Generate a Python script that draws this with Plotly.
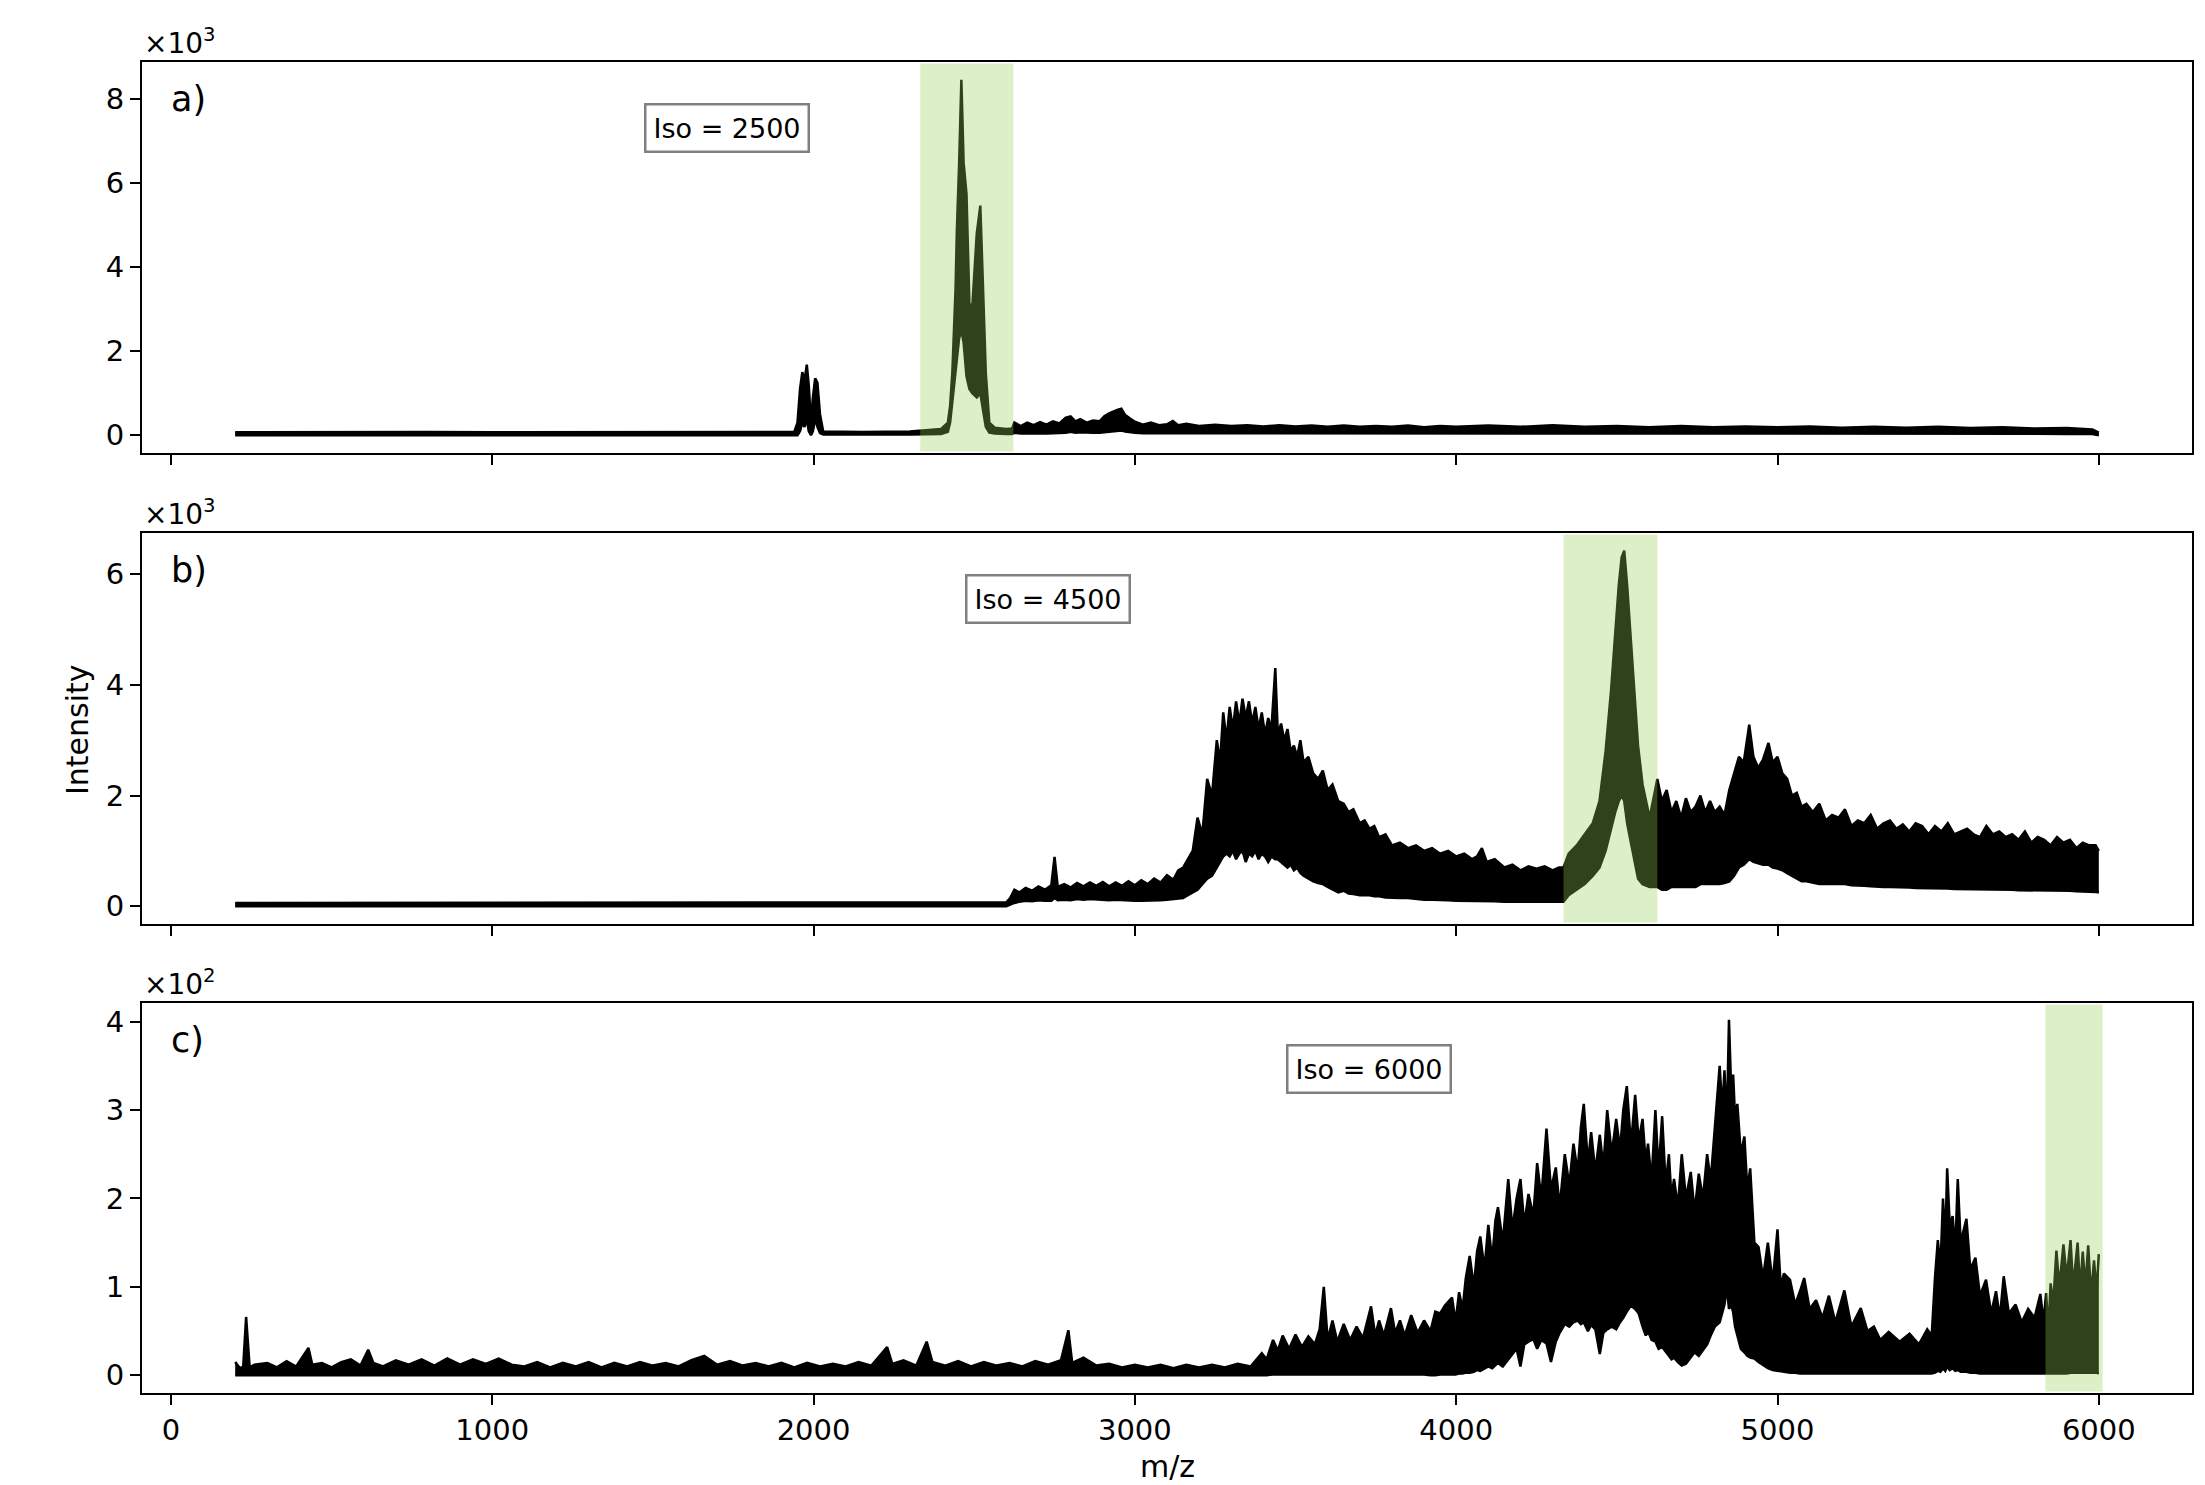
import plotly.graph_objects as go

FONT = "DejaVu Sans"

# ---------------- Panel a (Iso = 2500) ----------------
mz_a = [200, 400, 600, 800, 1000, 1200, 1400, 1600, 1800, 1940,
        1950, 1958, 1965, 1972, 1979, 1985, 1992, 1998, 2005, 2012,
        2020, 2030, 2150, 2300, 2397, 2418, 2425, 2432, 2442, 2446,
        2453, 2460, 2467, 2476, 2485, 2494, 2508, 2519, 2526, 2536,
        2547, 2564, 2600, 2618, 2625, 2645, 2665, 2685, 2705, 2725,
        2745, 2765, 2785, 2800, 2815, 2830, 2850, 2870, 2890, 2905,
        2920, 2935, 2945, 2958, 2970, 2985, 3000, 3025, 3050, 3075,
        3100, 3118, 3135, 3160, 3200, 3250, 3300, 3350, 3400, 3450,
        3500, 3550, 3600, 3650, 3700, 3750, 3800, 3850, 3900, 3950,
        4000, 4100, 4200, 4300, 4400, 4500, 4600, 4700, 4800, 4900,
        5000, 5100, 5200, 5300, 5400, 5500, 5600, 5700, 5800, 5900,
        5980, 6000]
hi_a = [70, 75, 70, 75, 70, 75, 70, 75, 75, 80,
        300, 1100, 1500, 1300, 1680, 1200, 300, 900, 1350, 1250,
        500, 90, 80, 90, 150, 300, 700, 1500, 3500, 4870,
        6440, 8450, 6480, 5730, 3130, 3050, 4800, 5460, 3840, 1480,
        300, 180, 150, 160, 300, 220, 300, 240, 310, 250,
        330, 280, 420, 450, 330, 380, 300, 350, 330, 450,
        520, 580, 600, 630, 480, 400, 320, 250, 300, 240,
        260, 340, 240, 270, 220, 250, 220, 240, 210, 240,
        210, 230, 200, 230, 200, 220, 200, 230, 190, 220,
        200, 230, 200, 240, 200, 220, 190, 220, 190, 210,
        190, 210, 180, 200, 180, 200, 170, 190, 160, 170,
        140, 60]
lo_a = [0, 0, 0, 0, 0, 0, 0, 0, 0, 0,
        0, 100, 300, 200, 400, 100, 0, 100, 400, 200,
        50, 20, 10, 15, 30, 80, 300, 800, 1400, 1800,
        2300, 2500, 2200, 1400, 1100, 1000, 900, 1000, 700, 200,
        60, 40, 30, 30, 60, 40, 50, 40, 50, 40,
        50, 50, 60, 80, 60, 70, 60, 60, 60, 70,
        80, 100, 100, 110, 90, 70, 60, 50, 50, 40,
        40, 40, 40, 40, 40, 40, 40, 40, 40, 40,
        40, 40, 40, 40, 40, 40, 40, 40, 40, 40,
        40, 40, 40, 40, 40, 40, 40, 40, 40, 40,
        40, 40, 40, 40, 40, 40, 40, 40, 35, 30,
        30, 0]

# ---------------- Panel b (Iso = 4500) ----------------
mz_b = [200, 600, 1000, 1400, 1800, 2200, 2600, 2612, 2625, 2640,
        2660, 2680, 2700, 2720, 2740, 2750, 2760, 2780, 2800, 2820,
        2840, 2860, 2880, 2900, 2920, 2940, 2960, 2980, 3000, 3020,
        3040, 3060, 3080, 3100, 3120, 3135, 3150, 3165, 3180, 3195,
        3210, 3225, 3240, 3255, 3265, 3275, 3285, 3295, 3305, 3315,
        3325, 3335, 3345, 3355, 3365, 3375, 3385, 3395, 3405, 3415,
        3425, 3437, 3445, 3455, 3465, 3475, 3485, 3495, 3505, 3515,
        3525, 3540, 3555, 3570, 3585, 3600, 3615, 3633, 3650, 3665,
        3680, 3700, 3715, 3730, 3745, 3760, 3780, 3800, 3825, 3850,
        3875, 3900, 3925, 3950, 3975, 4000, 4025, 4050, 4065, 4080,
        4095, 4120, 4150, 4175, 4200, 4225, 4250, 4275, 4300, 4320,
        4334, 4350, 4375, 4400, 4425, 4446, 4465, 4482, 4495, 4506,
        4515, 4523, 4532, 4542, 4555, 4566, 4580, 4602, 4626, 4640,
        4655, 4670, 4685, 4700, 4715, 4730, 4745, 4760, 4775, 4790,
        4805, 4820, 4835, 4850, 4865, 4880, 4895, 4912, 4925, 4940,
        4955, 4972, 4985, 5000, 5015, 5030, 5045, 5060, 5075, 5090,
        5110, 5130, 5150, 5170, 5190, 5210, 5230, 5250, 5270, 5290,
        5310, 5330, 5350, 5370, 5390, 5410, 5430, 5450, 5470, 5490,
        5510, 5530, 5550, 5570, 5590, 5610, 5630, 5650, 5670, 5690,
        5710, 5730, 5750, 5770, 5790, 5810, 5830, 5850, 5870, 5890,
        5910, 5930, 5950, 5970, 5990, 6000]
hi_b = [60, 60, 60, 60, 60, 60, 70, 150, 300, 250,
        330, 280, 360, 300, 380, 890, 350, 400, 340, 420,
        360, 430, 370, 440, 360, 430, 370, 450, 380, 470,
        400, 500, 430, 560, 480, 650, 700, 850, 1000, 1600,
        1300, 2300, 2000, 3000, 2600, 3500, 3000, 3600, 3200, 3700,
        3300, 3750, 3400, 3700, 3300, 3600, 3200, 3500, 3100, 3400,
        3200, 4300, 3100, 3300, 3000, 3200, 2800, 2900, 2700, 3000,
        2600, 2700, 2400, 2300, 2450, 2100, 2200, 1900, 1850, 1700,
        1750, 1500, 1550, 1400, 1450, 1250, 1300, 1100, 1150, 1050,
        1100, 1000, 1050, 950, 1000, 900, 950, 850, 900, 1050,
        800, 850, 700, 750, 650, 720, 680, 720, 650, 700,
        700, 950, 1100, 1300, 1500, 1900, 2800, 3900, 5000, 5800,
        6300, 6420, 5800, 4900, 3800, 2900, 2200, 1600, 2300, 1900,
        2100, 1700, 1900, 1600, 1950, 1700, 1800, 2000, 1700, 1900,
        1700, 1800, 1650, 2100, 2400, 2700, 2600, 3280, 2700, 2500,
        2650, 2950, 2600, 2700, 2400, 2300, 2000, 2050, 1800, 1850,
        1700, 1850, 1550, 1650, 1600, 1750, 1450, 1550, 1500, 1650,
        1400, 1500, 1550, 1400, 1480, 1350, 1500, 1450, 1300, 1450,
        1350, 1500, 1300, 1350, 1400, 1300, 1250, 1450, 1300, 1350,
        1250, 1300, 1200, 1350, 1150, 1250, 1200, 1100, 1250, 1150,
        1200, 1050, 1150, 1100, 1100, 1000]
lo_b = [0, 0, 0, 0, 0, 0, 0, 30, 60, 80,
        100, 90, 110, 100, 100, 150, 110, 120, 110, 130,
        120, 130, 120, 120, 110, 120, 110, 110, 100, 100,
        100, 110, 110, 120, 130, 140, 150, 200, 250, 300,
        400, 500, 550, 700, 800, 900, 950, 900, 1000, 850,
        950, 1000, 800, 950, 900, 1000, 850, 950, 900, 800,
        900, 850, 850, 800, 750, 700, 750, 650, 700, 600,
        550, 500, 450, 420, 400, 350, 300, 250, 280, 230,
        220, 200, 200, 200, 180, 180, 160, 150, 150, 150,
        130, 120, 120, 120, 110, 100, 100, 100, 100, 100,
        100, 90, 80, 80, 80, 70, 70, 70, 70, 70,
        80, 200, 300, 400, 550, 700, 1000, 1400, 1700, 1900,
        2000, 1900, 1500, 1200, 800, 500, 400, 350, 350, 300,
        300, 350, 350, 350, 350, 350, 350, 400, 400, 400,
        400, 400, 420, 450, 550, 700, 750, 850, 800, 780,
        750, 750, 700, 680, 650, 600, 550, 500, 450, 450,
        420, 400, 400, 400, 400, 400, 380, 380, 370, 360,
        350, 350, 350, 350, 340, 340, 330, 330, 320, 320,
        320, 320, 310, 310, 300, 300, 300, 300, 300, 300,
        300, 300, 290, 290, 290, 290, 280, 280, 280, 280,
        280, 270, 270, 270, 260, 250]

# ---------------- Panel c (Iso = 6000) ----------------
mz_c = [200, 215, 225, 234, 245, 260, 300, 330, 360, 390,
        428, 440, 470, 500, 530, 560, 590, 614, 630, 660,
        700, 740, 780, 820, 860, 900, 940, 980, 1020, 1060,
        1100, 1140, 1180, 1220, 1260, 1300, 1340, 1380, 1420, 1460,
        1500, 1540, 1580, 1620, 1660, 1700, 1740, 1780, 1820, 1860,
        1900, 1940, 1980, 2020, 2060, 2100, 2140, 2180, 2229, 2245,
        2280, 2320, 2352, 2370, 2410, 2450, 2490, 2530, 2570, 2610,
        2650, 2690, 2730, 2770, 2793, 2805, 2840, 2880, 2920, 2960,
        3000, 3040, 3080, 3120, 3160, 3200, 3240, 3280, 3320, 3360,
        3395, 3410, 3430, 3445, 3460, 3480, 3500, 3520, 3540, 3560,
        3575, 3588, 3600, 3615, 3630, 3650, 3670, 3690, 3710, 3735,
        3748, 3760, 3775, 3797, 3810, 3825, 3840, 3860, 3880, 3900,
        3920, 3935, 3950, 3965, 3987, 3998, 4009, 4020, 4030, 4042,
        4055, 4065, 4075, 4088, 4100, 4112, 4122, 4130, 4145, 4162,
        4175, 4188, 4200, 4212, 4225, 4240, 4252, 4265, 4281, 4295,
        4310, 4322, 4338, 4352, 4365, 4378, 4388, 4397, 4410, 4420,
        4433, 4447, 4458, 4470, 4484, 4498, 4510, 4520, 4531, 4544,
        4557, 4568, 4580, 4590, 4597, 4608, 4620, 4630, 4641, 4652,
        4662, 4670, 4678, 4690, 4702, 4715, 4730, 4742, 4755, 4768,
        4781, 4792, 4805, 4820, 4828, 4835, 4842, 4849, 4856, 4862,
        4868, 4875, 4886, 4897, 4906, 4915, 4928, 4941, 4955, 4970,
        4985, 5000, 5010, 5020, 5039, 5055, 5070, 5083, 5100, 5120,
        5140, 5160, 5180, 5208, 5230, 5259, 5280, 5300, 5320, 5346,
        5380, 5411, 5440, 5466, 5480, 5490, 5499, 5507, 5515, 5522,
        5528, 5536, 5545, 5553, 5561, 5570, 5588, 5600, 5616, 5630,
        5649, 5665, 5680, 5692, 5704, 5720, 5741, 5760, 5780, 5800,
        5818, 5828, 5836, 5843, 5850, 5858, 5868, 5877, 5890, 5900,
        5912, 5920, 5934, 5942, 5950, 5958, 5967, 5976, 5985, 5993,
        6000]
hi_c = [15, 8, 10, 66, 9, 12, 14, 9, 16, 10,
        31, 12, 14, 9, 15, 18, 11, 29, 14, 10,
        17, 12, 18, 11, 19, 12, 18, 13, 19, 12,
        10, 15, 9, 14, 10, 15, 9, 14, 10, 15,
        11, 14, 10, 17, 22, 12, 16, 11, 14, 10,
        14, 9, 14, 10, 13, 10, 15, 11, 32, 13,
        17, 11, 38, 15, 11, 16, 10, 15, 11, 14,
        10, 16, 12, 17, 51, 14, 20, 11, 13, 9,
        12, 9, 12, 8, 12, 9, 12, 9, 13, 10,
        25, 18, 40, 28, 45, 30, 46, 32, 44, 35,
        52, 100, 40, 62, 38, 58, 40, 55, 42, 78,
        45, 62, 45, 76, 48, 62, 45, 68, 48, 62,
        50, 72, 70, 79, 88, 60, 94, 75, 110, 135,
        100, 140, 157, 120, 170, 130, 175, 190, 150, 222,
        165, 200, 222, 170, 205, 180, 240, 200, 279, 210,
        235, 190, 250, 215, 262, 230, 280, 307, 240, 275,
        230, 272, 235, 300, 250, 290, 255, 300, 327, 260,
        317, 265, 290, 240, 262, 220, 300, 230, 293, 215,
        250, 200, 222, 190, 250, 200, 230, 185, 228, 200,
        250, 220, 280, 350, 300, 345, 280, 402, 320, 340,
        290, 307, 250, 270, 210, 234, 150, 145, 110, 150,
        105, 165, 100, 115, 108, 80, 95, 110, 75, 85,
        65, 90, 60, 96, 55, 76, 50, 55, 40, 49,
        38, 47, 35, 52, 45, 110, 153, 120, 200, 150,
        234, 170, 180, 140, 222, 150, 177, 120, 133, 90,
        108, 70, 95, 65, 112, 70, 80, 60, 75, 65,
        92, 60, 93, 50, 104, 80, 141, 100, 148, 110,
        153, 100, 150, 95, 140, 100, 147, 90, 130, 95,
        137]
lo_c = [0, 0, 0, 0, 0, 0, 0, 0, 0, 0,
        0, 0, 0, 0, 0, 0, 0, 0, 0, 0,
        0, 0, 0, 0, 0, 0, 0, 0, 0, 0,
        0, 0, 0, 0, 0, 0, 0, 0, 0, 0,
        0, 0, 0, 0, 0, 0, 0, 0, 0, 0,
        0, 0, 0, 0, 0, 0, 0, 0, 0, 0,
        0, 0, 0, 0, 0, 0, 0, 0, 0, 0,
        0, 0, 0, 0, 0, 0, 0, 0, 0, 0,
        0, 0, 0, 0, 0, 0, 0, 0, 0, 0,
        0, 0, 1, 1, 1, 1, 1, 1, 1, 1,
        1, 1, 1, 1, 1, 1, 1, 1, 1, 1,
        1, 1, 1, 1, 1, 1, 1, 1, 1, 1,
        0, 0, 1, 1, 1, 1, 2, 2, 3, 3,
        4, 6, 5, 8, 10, 8, 12, 14, 10, 18,
        25, 30, 10, 35, 38, 41, 30, 40, 36, 15,
        38, 48, 58, 55, 60, 62, 58, 60, 50, 57,
        52, 24, 48, 52, 55, 52, 60, 65, 72, 79,
        75, 70, 55, 45, 50, 40, 38, 30, 32, 26,
        22, 18, 20, 15, 11, 13, 20, 26, 22, 28,
        35, 45, 55, 60, 70, 80, 100, 75, 80, 71,
        55, 45, 30, 26, 22, 20, 19, 15, 12, 8,
        6, 5, 4, 4, 3, 3, 2, 2, 2, 2,
        2, 2, 2, 2, 2, 2, 2, 2, 2, 2,
        2, 2, 2, 2, 2, 3, 5, 4, 8, 5,
        10, 6, 8, 5, 6, 4, 4, 3, 3, 2,
        2, 2, 2, 2, 2, 2, 2, 2, 2, 2,
        2, 2, 2, 2, 2, 2, 2, 2, 2, 2,
        3, 3, 3, 3, 3, 3, 3, 3, 3, 3,
        2]

assert len(mz_a) == len(hi_a) == len(lo_a)
assert len(mz_b) == len(hi_b) == len(lo_b)
assert len(mz_c) == len(hi_c) == len(lo_c)

# isolation windows (m/z) and labels
iso_labels = ["Iso = 2500", "Iso = 4500", "Iso = 6000"]
iso_windows = [(2332, 2622), (4334, 4626), (5834, 6012)]
iso_label_x = [1731, 2729, 3728]
panel_labels = ["a)", "b)", "c)"]
scale_labels = ["×10<sup>3</sup>", "×10<sup>3</sup>", "×10<sup>2</sup>"]
y_ranges = [(-422, 8872), (-320, 6740), (-20, 421)]
y_tickvals = [[0, 2000, 4000, 6000, 8000], [0, 2000, 4000, 6000], [0, 100, 200, 300, 400]]
y_ticktext = [["0", "2", "4", "6", "8"], ["0", "2", "4", "6"], ["0", "1", "2", "3", "4"]]
x_tickvals = [0, 1000, 2000, 3000, 4000, 5000, 6000]

W, H = 2205, 1485
x_dom = [142 / W, 2192 / W]
y_doms = [[1 - 453 / H, 1 - 62 / H], [1 - 924 / H, 1 - 533 / H], [1 - 1393 / H, 1 - 1003 / H]]

fig = go.Figure()
data = [(mz_a, lo_a, hi_a), (mz_b, lo_b, hi_b), (mz_c, lo_c, hi_c)]
for i, (mz, lo, hi) in enumerate(data):
    xa = "x" if i == 0 else f"x{i+1}"
    ya = "y" if i == 0 else f"y{i+1}"
    fig.add_trace(go.Scatter(x=mz, y=lo, xaxis=xa, yaxis=ya, mode="lines",
                             line=dict(color="black", width=2.5),
                             showlegend=False, hoverinfo="skip"))
    fig.add_trace(go.Scatter(x=mz, y=hi, xaxis=xa, yaxis=ya, mode="lines",
                             fill="tonexty", fillcolor="black",
                             line=dict(color="black", width=2.5),
                             showlegend=False))

axis_common = dict(showline=True, mirror=True, linecolor="black", linewidth=2,
                   ticks="outside", ticklen=10, tickwidth=2, tickcolor="black",
                   showgrid=False, zeroline=False, automargin=False,
                   tickfont=dict(family=FONT, size=29, color="black"))

layout = dict(width=W, height=H, margin=dict(l=0, r=0, t=0, b=0),
              plot_bgcolor="white", paper_bgcolor="white",
              font=dict(family=FONT, color="black"), showlegend=False)

annotations = []
shapes = []
for i in range(3):
    xk = "xaxis" if i == 0 else f"xaxis{i+1}"
    yk = "yaxis" if i == 0 else f"yaxis{i+1}"
    xref = "x" if i == 0 else f"x{i+1}"
    yref = "y" if i == 0 else f"y{i+1}"
    layout[xk] = dict(axis_common, domain=x_dom, range=[-90, 6290], anchor=yref,
                      tickvals=x_tickvals, showticklabels=(i == 2))
    if i > 0:
        layout[xk]["matches"] = "x"
    layout[yk] = dict(axis_common, domain=y_doms[i], range=list(y_ranges[i]), anchor=xref,
                      tickvals=y_tickvals[i], ticktext=y_ticktext[i])
    x0, x1 = iso_windows[i]
    shapes.append(dict(type="rect", xref=xref, yref=f"{yref} domain", x0=x0, x1=x1,
                       y0=0.004, y1=0.996, fillcolor="rgba(150,204,82,0.32)",
                       line=dict(width=0), layer="above"))
    annotations.append(dict(xref=f"{xref} domain", yref=f"{yref} domain", x=0.013, y=0.905,
                            text=panel_labels[i], showarrow=False, xanchor="left",
                            yanchor="middle", font=dict(family=FONT, size=35, color="black")))
    annotations.append(dict(xref=f"{xref} domain", yref=f"{yref} domain", x=0, y=1,
                            text=scale_labels[i], showarrow=False, xanchor="left",
                            yanchor="bottom", yshift=0,
                            font=dict(family=FONT, size=28, color="black")))
    annotations.append(dict(xref=xref, yref=f"{yref} domain", x=iso_label_x[i], y=0.83,
                            text=iso_labels[i], showarrow=False, xanchor="center",
                            yanchor="middle", bgcolor="white", bordercolor="#808080",
                            borderwidth=2.5, borderpad=7,
                            font=dict(family=FONT, size=27, color="black")))

annotations.append(dict(xref="paper", yref="paper", x=77 / W, y=1 - 730 / H, text="Intensity",
                        textangle=-90, showarrow=False, xanchor="center", yanchor="middle",
                        font=dict(family=FONT, size=30, color="black")))
annotations.append(dict(xref="paper", yref="paper", x=1167 / W, y=1 - 1466 / H, text="m/z",
                        showarrow=False, xanchor="center", yanchor="middle",
                        font=dict(family=FONT, size=30, color="black")))

layout["annotations"] = annotations
layout["shapes"] = shapes
fig.update_layout(**layout)
fig.write_html("out.html")
